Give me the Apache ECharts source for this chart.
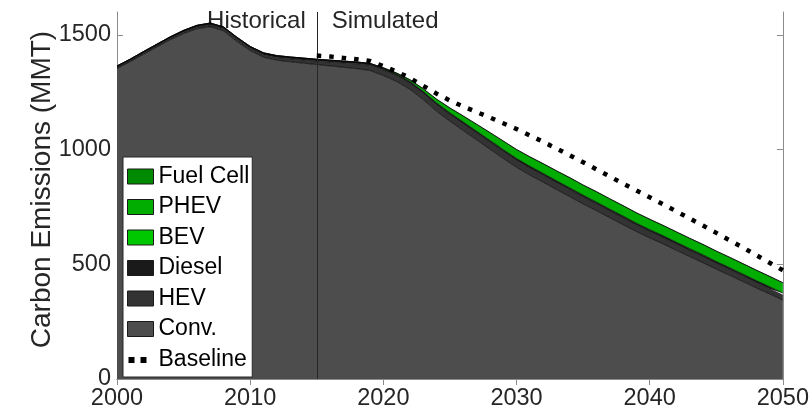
<!DOCTYPE html>
<html>
<head>
<meta charset="utf-8">
<script src="https://cdn.jsdelivr.net/npm/echarts@6/dist/echarts.min.js"></script>
<style>
  html, body { margin: 0; padding: 0; background: #ffffff; }
  #chart { width: 812px; height: 413px; }
</style>
</head>
<body>
<div id="chart"></div>
<script>
// Annual light-duty vehicle carbon emissions (MMT), 2000-2050
const years = [
  2000, 2001, 2002, 2003, 2004, 2005, 2006, 2007, 2008, 2009,
  2010, 2011, 2012, 2013, 2014, 2015, 2016, 2017, 2018, 2019,
  2020, 2021, 2022, 2023, 2024, 2025, 2026, 2027, 2028, 2029,
  2030, 2031, 2032, 2033, 2034, 2035, 2036, 2037, 2038, 2039,
  2040, 2041, 2042, 2043, 2044, 2045, 2046, 2047, 2048, 2049,
  2050
];

const conv = [
  1354, 1384, 1416, 1448, 1479, 1506, 1527, 1536, 1518, 1472,
  1432, 1403, 1390, 1383, 1377, 1371, 1365, 1359, 1353, 1345,
  1323, 1297, 1263, 1218, 1167, 1124, 1083, 1043, 1002, 962,
  923, 889, 858, 826, 795, 763, 734, 703, 673, 643,
  615, 589, 561, 534, 507, 479, 452, 425, 397, 371,
  344
];

const hev = [
  3, 3, 4, 4, 5, 6, 7, 8, 9, 10,
  10, 11, 12, 13, 14, 15, 17, 19, 21, 23,
  24, 25, 26, 27, 28, 28, 29, 29, 30, 30,
  30, 30, 30, 30, 30, 30, 29, 29, 29, 28,
  28, 27, 27, 26, 26, 25, 25, 24, 24, 23,
  22
];

const diesel = [
  8, 8, 8, 8, 8, 8, 8, 8, 8, 8,
  8, 8, 8, 8, 8, 8, 8, 8, 8, 8,
  8, 8, 8, 8, 8, 8, 8, 8, 8, 8,
  8, 8, 8, 8, 8, 8, 8, 8, 8, 8,
  8, 8, 8, 8, 8, 8, 8, 8, 8, 8,
  8
];

const bev = [
  0, 0, 0, 0, 0, 0, 0, 0, 0, 0,
  0, 0, 0, 0, 0, 0, 0, 0, 0, 0,
  0, 0, 1, 1, 1, 1, 1, 1, 1, 1,
  1, 1, 1, 1, 1, 1, 1, 1, 1, 1,
  1, 1, 1, 1, 1, 1, 1, 1, 1, 1,
  1
];

const phev = [
  0, 0, 0, 0, 0, 0, 0, 0, 0, 0,
  0, 0, 0, 0, 0, 0, 0, 0, 0, 0,
  2, 4, 7, 11, 16, 20, 25, 29, 33, 36,
  38, 40, 41, 42, 43, 43, 44, 44, 44, 44,
  44, 44, 44, 44, 44, 44, 44, 44, 44, 44,
  44
];

const fuelCell = [
  0, 0, 0, 0, 0, 0, 0, 0, 0, 0,
  0, 0, 0, 0, 0, 0, 0, 0, 0, 0,
  0, 0, 0, 0, 0, 1, 1, 1, 1, 1,
  1, 1, 1, 1, 1, 1, 1, 1, 1, 1,
  1, 1, 1, 1, 1, 1, 1, 1, 1, 1,
  1
];

// Baseline scenario total, simulated years only
const baselineYears = [
  2015, 2016, 2017, 2018, 2019, 2020, 2021, 2022, 2023, 2024,
  2025, 2026, 2027, 2028, 2029, 2030, 2031, 2032, 2033, 2034,
  2035, 2036, 2037, 2038, 2039, 2040, 2041, 2042, 2043, 2044,
  2045, 2046, 2047, 2048, 2049, 2050
];
const baseline = [
  1410, 1406, 1400, 1394, 1386, 1364, 1340, 1312, 1278, 1244,
  1214, 1188, 1164, 1140, 1115, 1090, 1062, 1034, 1005, 975,
  945, 914, 883, 852, 822, 792, 762, 731, 700, 669,
  637, 605, 573, 540, 507, 474
];

const yTicks = [0, 500, 1000, 1500];
const splitYear = 2015;

const FONT = '"Liberation Sans", Arial, Helvetica, sans-serif';
const TEXT = '#262626';
const AXIS = '#8c8c8c';

const colors = {
  'Conv.': '#4d4d4d',
  'HEV': '#333333',
  'Diesel': '#1a1a1a',
  'BEV': '#00c800',
  'PHEV': '#00ad00',
  'Fuel Cell': '#008a00'
};

const yearCats = years.map(String);
const baselineByYear = years.map(y => {
  const i = baselineYears.indexOf(y);
  return i < 0 ? null : baseline[i];
});

function areaSeries(name, values, edge) {
  return {
    name: name,
    type: 'line',
    stack: 'total',
    data: values,
    symbol: 'none',
    smooth: false,
    lineStyle: { color: '#000000', width: edge },
    areaStyle: { color: colors[name], opacity: 1 },
    itemStyle: { color: colors[name] },
    emphasis: { disabled: true },
    silent: true
  };
}

const chart = echarts.init(document.getElementById('chart'), null, { renderer: 'canvas' });

const series = [
  areaSeries('Conv.', conv, 0.7),
  areaSeries('HEV', hev, 0.5),
  areaSeries('Diesel', diesel, 0.5),
  areaSeries('BEV', bev, 0.4),
  areaSeries('PHEV', phev, 0.4),
  areaSeries('Fuel Cell', fuelCell, 0.8),
  {
    name: 'Baseline',
    type: 'line',
    data: baselineByYear,
    symbol: 'none',
    connectNulls: false,
    lineStyle: { color: '#000000', width: 4.5, type: [4.5, 8], cap: 'butt' },
    itemStyle: { color: '#000000' },
    z: 5,
    silent: true,
    markLine: {
      silent: true,
      symbol: 'none',
      label: { show: false },
      lineStyle: { color: '#262626', width: 1, type: 'solid' },
      data: [{ xAxis: String(splitYear) }]
    }
  }
];

function legendRect(name) {
  return {
    name: name,
    icon: 'rect',
    itemStyle: { color: colors[name], borderColor: '#1a1a1a', borderWidth: 1 }
  };
}

const decade = (idx, val) => Number(val) % 10 === 0;
const tickLine = { color: AXIS, width: 1 };

function xAxisDef(pos, showLabels) {
  return {
    type: 'category', data: yearCats, boundaryGap: false, position: pos,
    axisLine: { show: true, lineStyle: { color: AXIS, width: 1 } },
    axisTick: { show: true, inside: true, length: 6, interval: decade, lineStyle: tickLine },
    axisLabel: { show: showLabels, interval: decade, color: TEXT, fontSize: 23.5, fontFamily: FONT, margin: 8 },
    splitLine: { show: false }
  };
}

chart.setOption({
  animation: false,
  backgroundColor: '#ffffff',
  textStyle: { fontFamily: FONT },
  grid: { left: 117, right: 24, top: 12, bottom: 34, containLabel: false },
  xAxis: [xAxisDef('bottom', true), xAxisDef('top', false)],
  yAxis: [
    {
      type: 'value', min: 0, max: 1600,
      name: 'Carbon Emissions (MMT)', nameLocation: 'middle', nameGap: 61,
      nameMoveOverlap: false,
      nameTextStyle: { color: TEXT, fontSize: 28, fontFamily: FONT, padding: [0, 0, 0, 12] },
      axisLine: { show: true, lineStyle: { color: AXIS, width: 1 } },
      axisTick: { show: true, inside: true, length: 6, customValues: yTicks, lineStyle: tickLine },
      axisLabel: {
        color: TEXT, fontSize: 23.5, fontFamily: FONT, margin: 6, customValues: yTicks,
        formatter: v => String(v)
      },
      splitLine: { show: false }
    },
    {
      type: 'value', min: 0, max: 1600, position: 'right',
      axisLine: { show: true, lineStyle: { color: AXIS, width: 1 } },
      axisTick: { show: true, inside: true, length: 6, customValues: yTicks, lineStyle: tickLine },
      axisLabel: { show: false },
      splitLine: { show: false }
    }
  ],
  legend: {
    orient: 'vertical',
    left: 123, top: 157,
    padding: [8, 3, 6, 4],
    itemWidth: 26, itemHeight: 15, itemGap: 7.5,
    backgroundColor: '#ffffff',
    borderColor: '#262626', borderWidth: 1, borderRadius: 0,
    textStyle: { color: '#000000', fontSize: 23, fontFamily: FONT, lineHeight: 23 },
    selectedMode: false,
    data: [
      legendRect('Fuel Cell'),
      legendRect('PHEV'),
      legendRect('BEV'),
      legendRect('Diesel'),
      legendRect('HEV'),
      legendRect('Conv.'),
      {
        name: 'Baseline',
        icon: 'path://M0,0 M26,15 M1,5h6v6h-6z M13,5h6v6h-6z',
        itemStyle: { color: '#000000', borderWidth: 0 }
      }
    ]
  },
  series: series
});

// Period labels either side of the historical/simulated divide
const xSplit = chart.convertToPixel({ xAxisIndex: 0 }, String(splitYear));
chart.setOption({
  graphic: [
    {
      type: 'text', x: xSplit - 11, y: 21, silent: true,
      style: { text: 'Historical', fill: TEXT, font: '24px ' + FONT, align: 'right', verticalAlign: 'middle' }
    },
    {
      type: 'text', x: xSplit + 15, y: 21, silent: true,
      style: { text: 'Simulated', fill: TEXT, font: '24px ' + FONT, align: 'left', verticalAlign: 'middle' }
    }
  ]
});
</script>
</body>
</html>
